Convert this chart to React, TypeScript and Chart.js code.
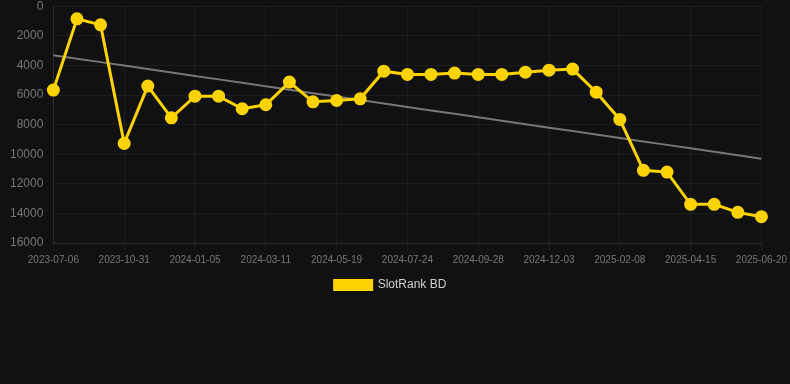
import React, { useEffect, useRef } from "react";
import { Chart, registerables } from "chart.js";

Chart.register(...registerables);

const labels: string[] = [
  "2023-07-06", "2023-08-14", "2023-09-22", "2023-10-31", "2023-11-22", "2023-12-14",
  "2024-01-05", "2024-01-27", "2024-02-18", "2024-03-11", "2024-04-03", "2024-04-26",
  "2024-05-19", "2024-06-10", "2024-07-02", "2024-07-24", "2024-08-15", "2024-09-06",
  "2024-09-28", "2024-10-20", "2024-11-11", "2024-12-03", "2024-12-25", "2025-01-17",
  "2025-02-08", "2025-03-02", "2025-03-24", "2025-04-15", "2025-05-07", "2025-05-29",
  "2025-06-20",
];

const rankValues: number[] = [
  5670, 850, 1260, 9270, 5400, 7540,
  6080, 6080, 6930, 6660, 5130, 6460,
  6370, 6260, 4390, 4610, 4610, 4520,
  4610, 4610, 4460, 4320, 4250, 5810,
  7650, 11090, 11210, 13390, 13390, 13930,
  14220,
];

const seriesName = "SlotRank BD";

function trendOf(values: number[]): number[] {
  const n = values.length;
  let sx = 0, sy = 0, sxy = 0, sxx = 0;
  values.forEach((y, x) => { sx += x; sy += y; sxy += x * y; sxx += x * x; });
  const slope = (n * sxy - sx * sy) / (n * sxx - sx * sx);
  const icpt = (sy - slope * sx) / n;
  return values.map((_, x) => icpt + slope * x);
}

export default function App() {
  const ref = useRef<HTMLCanvasElement | null>(null);
  useEffect(() => {
    document.body.style.margin = "0";
    document.body.style.background = "#111111";
    if (!ref.current) return;
    const chart = new Chart(ref.current, {
      type: "line",
      data: {
        labels,
        datasets: [
          {
            label: seriesName,
            data: rankValues,
            borderColor: "#FFD300",
            backgroundColor: "#FFD300",
            borderWidth: 3,
            pointRadius: 5,
            pointHoverRadius: 5,
            pointBackgroundColor: "#FFD300",
            pointBorderColor: "#FFD300",
            tension: 0,
            order: 1,
          },
          {
            label: "trend",
            data: trendOf(rankValues),
            borderColor: "#777777",
            backgroundColor: "#777777",
            borderWidth: 2,
            pointRadius: 0,
            tension: 0,
            order: 2,
          },
        ],
      },
      options: {
        animation: false,
        responsive: false,
        maintainAspectRatio: false,
        layout: { padding: { top: 0, right: 9, left: 0, bottom: 0 } },
        plugins: {
          tooltip: { enabled: false },
          legend: {
            position: "bottom",
            labels: {
              color: "#d0d0d0",
              font: { size: 12 },
              boxWidth: 37,
              boxHeight: 9,
              filter: (item) => item.text === seriesName,
            },
          },
        },
        scales: {
          x: {
            grid: { color: "rgba(255,255,255,0.05)", drawTicks: true, tickLength: 8 },
            border: { color: "rgba(255,255,255,0.08)" },
            ticks: {
              color: "#777777",
              font: { size: 10 },
              maxRotation: 0,
              autoSkip: true,
              maxTicksLimit: 11,
            },
          },
          y: {
            reverse: true,
            min: 0,
            max: 16000,
            grid: { color: "rgba(255,255,255,0.05)", drawTicks: false },
            border: { color: "rgba(255,255,255,0.08)" },
            ticks: {
              color: "#777777",
              font: { size: 12 },
              stepSize: 2000,
              padding: 10,
              callback: (v) => String(v),
            },
          },
        },
      },
    });
    return () => chart.destroy();
  }, []);
  return (
    <div style={{ width: 790, height: 384, background: "#111111", overflow: "hidden" }}>
      <canvas
        ref={ref}
        width={790}
        height={312}
        style={{ display: "block", marginTop: -11 }}
      />
    </div>
  );
}
